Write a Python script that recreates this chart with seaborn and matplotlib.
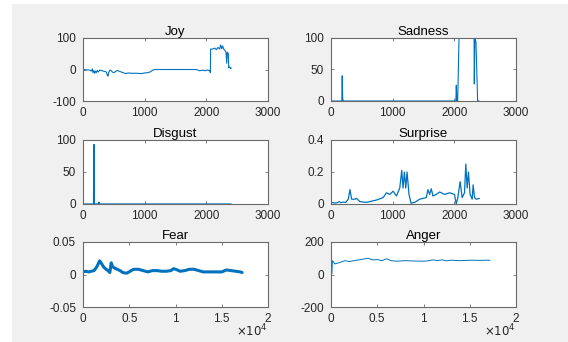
import numpy as np
import pandas as pd
import matplotlib
matplotlib.use('Agg')
import matplotlib.pyplot as plt
import seaborn as sns

# matlab-ish look
sns.set_style('white')
plt.rcParams['font.family'] = ['Liberation Sans', 'DejaVu Sans']

LINE = '#0072BD'
GRID = '#6a6a6a'
TXT = '#262626'

# --- data ---
joy_x = [0, 60, 108, 135, 151, 162, 178, 189, 205, 216, 232, 249, 270, 297, 324, 351, 378, 395,
         405, 416, 432, 449, 476, 503, 530, 557, 595, 649, 692, 730, 784, 865, 946, 1000, 1054,
         1097, 1124, 1146, 1189, 1400, 1600, 1838, 1865, 1892, 1946, 1973, 2000, 2054, 2065, 2070,
         2108, 2135, 2162, 2189, 2216, 2232, 2249, 2265, 2281, 2303, 2319, 2330, 2341, 2357, 2362,
         2378, 2395, 2405]
joy_y = [0, -1, -2, -5, 2, -10, -3, -12, -5, -10, -3, -8, -2, -3, -5, -6, -8, -18,
         -21, -10, -3, -2, -8, -10, -6, -3, -6, -10, -13, -11, -12, -12, -13, -11, -10,
         -7, -3, -1, 0, 0, 0, 0, -2, -4, -2, -4, -2, -3, -10, 65,
         65, 68, 63, 70, 65, 78, 66, 75, 65, 60, 55, 20, 55, 50, 5,
         8, 3, 5]

sad_x = [0, 175, 182, 189, 196, 205, 1500, 2025, 2032, 2040, 2054, 2076, 2200, 2320, 2324, 2332,
         2340, 2350, 2378, 2390, 2400]
sad_y = [0, 0, 40, 5, 0, 0, 0, 0, 25, 0, 0, 100, 100, 100, 27, 100, 95, 95, 0, 0, 0]

dis_x = [0, 170, 179, 185, 192, 250, 260, 270, 800, 1400, 2000, 2403]
dis_y = [0, 0, 93, 0, 0, 0, 3, 0, 0, 0, 0, 0]

sur_x = [0, 60, 100, 135, 160, 200, 240, 280, 307, 334, 388, 415, 468, 576, 738, 846, 899, 953,
         1007, 1061, 1115, 1147, 1168, 1190, 1212, 1233, 1265, 1298, 1357, 1437, 1545, 1572, 1599,
         1626, 1653, 1707, 1761, 1842, 1922, 2003, 2030, 2057, 2094, 2127, 2165, 2186, 2208, 2229,
         2256, 2289, 2305, 2327, 2354, 2407]
sur_y = [0.01, 0.006, 0.008, 0.015, 0.008, 0.012, 0.01, 0.03, 0.09, 0.03, 0.03, 0.035, 0.015,
         0.01, 0.025, 0.04, 0.07, 0.06, 0.08, 0.05, 0.1, 0.21, 0.1, 0.2, 0.1, 0.2, 0.06, 0.005,
         0.01, 0.03, 0.04, 0.09, 0.06, 0.095, 0.05, 0.06, 0.075, 0.06, 0.07, 0.06, 0.0, 0.04,
         0.14, 0.04, 0.07, 0.25, 0.1, 0.2, 0.06, 0.03, 0.12, 0.04, 0.03, 0.035]

fear_x = [0, 300, 600, 900, 1200, 1500, 1800, 2000, 2200, 2500, 2700, 2900, 3050, 3200, 3400,
          3700, 4000, 4300, 4700, 5000, 5200, 5500, 6000, 6500, 7000, 7500, 8000, 8500, 9000,
          9500, 9800, 10200, 10500, 11000, 11500, 12000, 12500, 13000, 13500, 14000, 14500,
          15000, 15500, 16000, 16500, 17000, 17200]
fear_y = [0.004, 0.005, 0.004, 0.005, 0.006, 0.012, 0.021, 0.017, 0.012, 0.008, 0.006, 0.003,
          0.018, 0.012, 0.01, 0.008, 0.006, 0.003, 0.002, 0.004, 0.006, 0.008, 0.008, 0.006,
          0.004, 0.006, 0.006, 0.005, 0.005, 0.006, 0.009, 0.007, 0.005, 0.006, 0.008, 0.008,
          0.006, 0.004, 0.004, 0.004, 0.004, 0.004, 0.007, 0.006, 0.005, 0.004, 0.003]

ang_x = [0, 50, 100, 150, 250, 400, 600, 1000, 1500, 2000, 2500, 3000, 3500, 4000, 4500, 5000,
         5500, 6000, 6500, 7000, 8000, 9000, 10000, 10500, 11000, 11500, 12000, 12500, 13000,
         14000, 15000, 16000, 17000, 17200]
ang_y = [100, 0, 5, 85, 80, 65, 68, 75, 85, 80, 85, 90, 95, 100, 90, 92, 85, 97, 85, 82, 85,
         83, 82, 84, 90, 86, 90, 84, 88, 85, 88, 87, 88, 87]

panels = [
    ('Joy', joy_x, joy_y, (-100, 100), [-100, 0, 100], (0, 3000), [0, 1000, 2000, 3000], 0.8),
    ('Sadness', sad_x, sad_y, (0, 100), [0, 50, 100], (0, 3000), [0, 1000, 2000, 3000], 0.8),
    ('Disgust', dis_x, dis_y, (0, 100), [0, 50, 100], (0, 3000), [0, 1000, 2000, 3000], 0.9),
    ('Surprise', sur_x, sur_y, (0, 0.4), [0, 0.2, 0.4], (0, 3000), [0, 1000, 2000, 3000], 0.9),
    ('Fear', fear_x, fear_y, (-0.05, 0.05), [-0.05, 0, 0.05], (0, 20000),
     [0, 5000, 10000, 15000, 20000], 2.2),
    ('Anger', ang_x, ang_y, (-200, 200), [-200, 0, 200], (0, 20000),
     [0, 5000, 10000, 15000, 20000], 0.7),
]

W, H = 568, 342
fig = plt.figure(figsize=(W / 100, H / 100), dpi=100)
fig.patch.set_facecolor('white')
fig.patches.append(plt.Rectangle((12 / W, 0), 1 - 12 / W, 1 - 4 / H, transform=fig.transFigure,
                                 facecolor='#f0f0f0', edgecolor='none', zorder=-10))

lefts = [83, 331]
rows = [(38, 101), (140, 204), (242, 307)]
width = 185

for i, (name, xs, ys, ylim, yt, xlim, xt, lw) in enumerate(panels):
    r, c = divmod(i, 2)
    top, bot = rows[r]
    ax = fig.add_axes([lefts[c] / W, 1 - bot / H, width / W, (bot - top) / H])
    df = pd.DataFrame({'x': xs, 'y': ys})
    sns.lineplot(data=df, x='x', y='y', ax=ax, color=LINE, linewidth=lw,
                 estimator=None, sort=False)
    ax.set_xlim(*xlim)
    ax.set_ylim(*ylim)
    ax.set_xticks(xt)
    ax.set_yticks(yt)
    if xlim[1] == 20000:
        ax.set_xticklabels(['0', '0.5', '1', '1.5', '2'])
        ax.text(1.0, -0.24, r'$\times10^{4}$', transform=ax.transAxes, ha='right', va='top',
                fontsize=8.5, color=TXT)
    else:
        ax.set_xticklabels([str(v) for v in xt])
    ax.set_yticklabels([('%g' % v) for v in yt])
    ax.set_xlabel('')
    ax.set_ylabel('')
    ax.set_title(name, fontsize=9.5, color='black', pad=2)
    ax.set_facecolor('white')
    for s in ax.spines.values():
        s.set_color(GRID)
        s.set_linewidth(0.8)
    ax.tick_params(direction='in', length=2.5, width=0.6, color=GRID, labelsize=8.5,
                   labelcolor=TXT, top=True, right=True, bottom=True, left=True)
    ax.tick_params(axis='y', pad=5)
    ax.tick_params(axis='x', pad=4)

fig.savefig('out.png', dpi=100, facecolor=fig.get_facecolor())
